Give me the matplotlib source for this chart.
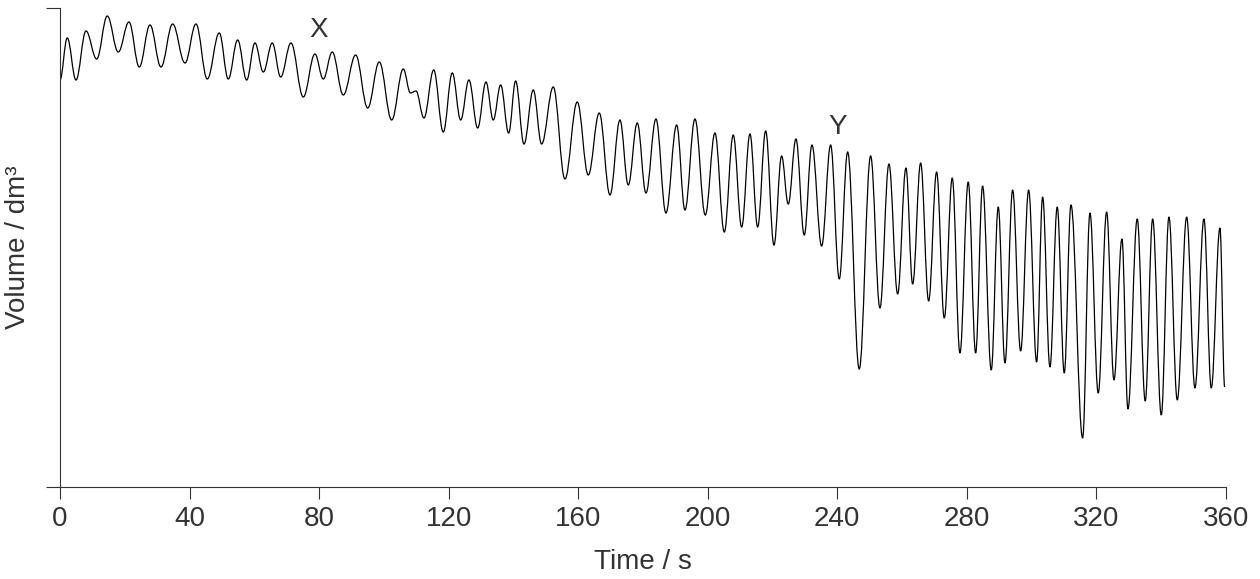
# Spirometer trace: volume against time, extrema
import matplotlib.pyplot as plt
from matplotlib.path import Path
from matplotlib.patches import PathPatch

plt.rcParams["font.family"] = ["Liberation Sans", "DejaVu Sans"]

# -----------------------------
# Data: turning points of the trace (time in s, volume in arbitrary dm3)
# -----------------------------
time_s = [
    0.00, 2.25, 4.94, 8.03, 11.33, 14.60, 18.00, 21.30, 24.48, 27.79,
    31.18, 34.79, 38.59, 41.99, 45.48, 49.18, 51.96, 54.86, 57.64, 60.20,
    62.77, 65.55, 68.14, 71.32, 75.12, 78.71, 81.29, 84.07, 87.47, 91.29,
    95.00, 98.58, 102.41, 105.99, 108.21, 109.91, 112.38, 115.38, 118.34, 121.12,
    123.71, 126.27, 128.96, 131.52, 133.78, 136.06, 138.53, 140.69, 143.26, 146.13,
    148.70, 152.30, 155.91, 159.71, 163.11, 166.50, 169.81, 172.89, 175.46, 178.24,
    180.92, 184.01, 187.09, 190.40, 192.96, 196.05, 199.23, 202.22, 205.10, 207.87,
    210.47, 213.03, 215.41, 217.88, 220.44, 222.80, 224.85, 227.23, 229.79, 232.17,
    235.16, 237.94, 240.60, 243.19, 246.77, 250.29, 253.16, 255.94, 258.63, 261.19,
    263.26, 265.73, 268.20, 270.66, 273.02, 275.49, 277.86, 280.42, 282.71, 284.86,
    287.53, 289.69, 291.76, 294.13, 296.60, 299.07, 301.54, 303.39, 305.65, 307.90,
    310.07, 312.14, 315.74, 318.00, 320.56, 323.15, 325.41, 327.88, 329.73, 332.60,
    335.07, 337.36, 340.02, 342.39, 344.96, 347.86, 350.42, 353.20, 355.45, 358.14,
    359.60,
]
volume = [
    4.07, 4.49, 4.07, 4.56, 4.28, 4.71, 4.35, 4.65, 4.20, 4.62,
    4.20, 4.63, 4.24, 4.63, 4.08, 4.54, 4.08, 4.47, 4.07, 4.44,
    4.15, 4.44, 4.10, 4.44, 3.90, 4.33, 4.08, 4.35, 3.92, 4.32,
    3.79, 4.25, 3.67, 4.18, 3.94, 3.96, 3.69, 4.17, 3.55, 4.14,
    3.67, 4.07, 3.59, 4.05, 3.67, 4.02, 3.54, 4.06, 3.43, 3.97,
    3.43, 4.00, 3.08, 3.85, 3.12, 3.74, 2.92, 3.67, 3.02, 3.64,
    2.94, 3.68, 2.74, 3.62, 2.77, 3.68, 2.72, 3.54, 2.55, 3.52,
    2.60, 3.53, 2.60, 3.56, 2.42, 3.31, 2.83, 3.48, 2.52, 3.42,
    2.41, 3.42, 2.08, 3.35, 1.18, 3.31, 1.79, 3.23, 1.93, 3.19,
    2.03, 3.24, 1.86, 3.15, 1.69, 3.09, 1.34, 3.05, 1.34, 3.01,
    1.17, 2.80, 1.24, 2.97, 1.36, 2.97, 1.25, 2.90, 1.20, 2.80,
    1.14, 2.82, 0.49, 2.74, 0.94, 2.75, 1.07, 2.48, 0.78, 2.68,
    0.86, 2.68, 0.72, 2.70, 0.87, 2.70, 0.99, 2.68, 0.99, 2.59,
    1.00,
]

x_ticks = [0, 40, 80, 120, 160, 200, 240, 280, 320, 360]
labels = ["X", "Y"]
label_t = [80, 240]
label_v = [4.50, 3.53]

V_TOP = 4.79
TEXT = "#333333"

# -----------------------------
# Figure
# -----------------------------
fig = plt.figure(figsize=(12.6, 5.79), dpi=100)
ax = fig.add_axes([0.0476, 0.1589, 0.9254, 0.8273])

# smooth trace: cubic segments with flat tangents at each turning point
K = 0.38
verts = [(time_s[0], volume[0])]
codes = [Path.MOVETO]
for i in range(1, len(time_s)):
    dt = time_s[i] - time_s[i - 1]
    verts += [(time_s[i - 1] + K * dt, volume[i - 1]),
              (time_s[i] - K * dt, volume[i]),
              (time_s[i], volume[i])]
    codes += [Path.CURVE4] * 3
ax.add_patch(PathPatch(Path(verts, codes), fill=False, lw=0.9,
                       ec="black", transform=ax.transData))

for lab, t, v in zip(labels, label_t, label_v):
    ax.text(t, v, lab, ha="center", va="baseline", fontsize=20, color=TEXT)

ax.set_xlim(0, 360)
ax.set_ylim(0, V_TOP)
ax.set_xticks(x_ticks)
ax.set_yticks([0, V_TOP])
ax.set_yticklabels([])

for side in ["top", "right"]:
    ax.spines[side].set_visible(False)
for side in ["left", "bottom"]:
    ax.spines[side].set_color(TEXT)
    ax.spines[side].set_linewidth(0.8)

ax.tick_params(axis="x", direction="out", length=8.6, width=0.8,
               color=TEXT, labelsize=20, labelcolor=TEXT, pad=5)
ax.tick_params(axis="y", direction="out", length=10, width=0.8, color=TEXT)

ax.set_xlabel("Time / s", fontsize=20, color=TEXT, labelpad=12)
ax.set_ylabel("Volume / dm³", fontsize=20, color=TEXT)
ax.yaxis.set_label_coords(-0.025, 0.5)

fig.savefig("out.png", dpi=100)
plt.close(fig)
